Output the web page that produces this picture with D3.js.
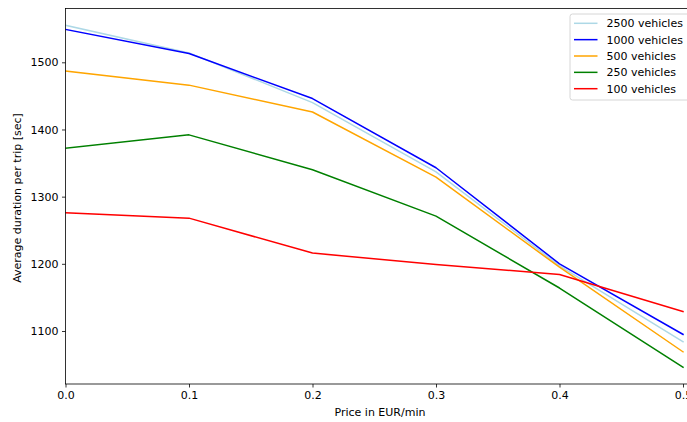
<!DOCTYPE html>
<html>
<head>
<meta charset="utf-8">
<script src="https://cdn.jsdelivr.net/npm/d3@7"></script>
<style>
html,body{margin:0;padding:0;background:#fff;overflow:hidden;}
svg{display:block;font-family:"DejaVu Sans",sans-serif;}
</style>
</head>
<body>
<svg id="chart" width="687" height="422"></svg>
<script>
const prices = [0.0, 0.1, 0.2, 0.3, 0.4, 0.5];
const v2500 = [1555, 1514, 1440, 1337, 1197, 1084];
const v1000 = [1549, 1513, 1446, 1343, 1200, 1095];
const v500  = [1487, 1466, 1426, 1329, 1195, 1069];
const v250  = [1372, 1392, 1340, 1271, 1164, 1046];
const v100  = [1276, 1268, 1216, 1199, 1184, 1129];
const seriesNames = ["2500 vehicles", "1000 vehicles", "500 vehicles", "250 vehicles", "100 vehicles"];
const seriesColors = ["#add8e6", "#0000ff", "#ffa500", "#008000", "#ff0000"];
const xTicks = [0.0, 0.1, 0.2, 0.3, 0.4, 0.5];
const yTicks = [1100, 1200, 1300, 1400, 1500];

const seriesValues = [v2500, v1000, v500, v250, v100];

const svg = d3.select("#chart");
const mLeft = 65.5, mTop = 8.5, mBottom = 384, mRight = 693;

const x = d3.scaleLinear().domain([0, 0.5]).range([mLeft, 683]);
const y = d3.scaleLinear().domain([1100, 1500]).range([331, 62.3]);

// lines
const line = d3.line().x((d, i) => x(prices[i])).y(d => y(d));
svg.append("clipPath").attr("id", "clip").append("rect")
  .attr("x", mLeft).attr("y", mTop).attr("width", mRight - mLeft).attr("height", mBottom - mTop);
const g = svg.append("g").attr("clip-path", "url(#clip)");
seriesValues.forEach((vals, k) => {
  g.append("path").datum(vals)
    .attr("d", line)
    .attr("fill", "none")
    .attr("stroke", seriesColors[k])
    .attr("stroke-width", 1.5)
    .attr("stroke-linejoin", "round")
    .attr("stroke-linecap", "square");
});

// axes
const xAxis = d3.axisBottom(x).tickValues(xTicks).tickFormat(d3.format(".1f")).tickSize(3.5).tickPadding(3.5);
const yAxis = d3.axisLeft(y).tickValues(yTicks).tickFormat(d3.format("d")).tickSize(3.5).tickPadding(3.5);
const gx = svg.append("g").attr("transform", `translate(0,${mBottom})`).call(xAxis);
const gy = svg.append("g").attr("transform", `translate(${mLeft},0)`).call(yAxis);
[gx, gy].forEach(ax => {
  ax.select(".domain").remove();
  ax.selectAll(".tick line").attr("stroke", "#000").attr("stroke-width", 0.8);
  ax.selectAll(".tick text").attr("fill", "#000").style("font-size", "11px").style("font-family", "DejaVu Sans");
});

// frame
svg.append("rect").attr("x", mLeft).attr("y", mTop).attr("width", mRight - mLeft).attr("height", mBottom - mTop)
  .attr("fill", "none").attr("stroke", "#000").attr("stroke-width", 0.8);

// axis labels
svg.append("text").attr("x", 380).attr("y", 416).attr("text-anchor", "middle")
  .style("font-size", "11px").text("Price in EUR/min");
svg.append("text").attr("transform", "translate(21,198) rotate(-90)").attr("text-anchor", "middle")
  .style("font-size", "11px").text("Average duration per trip [sec]");

// legend
const lg = svg.append("g");
lg.append("rect").attr("x", 570).attr("y", 14).attr("width", 120).attr("height", 86).attr("rx", 2.5)
  .attr("fill", "#fff").attr("fill-opacity", 0.8).attr("stroke", "#cccccc").attr("stroke-width", 0.8);
seriesNames.forEach((name, k) => {
  const yy = 23.3 + k * 16.35;
  lg.append("line").attr("x1", 574).attr("x2", 597.5).attr("y1", yy).attr("y2", yy)
    .attr("stroke", seriesColors[k]).attr("stroke-width", 1.5);
  lg.append("text").attr("x", 606.5).attr("y", yy + 4).style("font-size", "11px").text(name);
});
</script>
</body>
</html>
